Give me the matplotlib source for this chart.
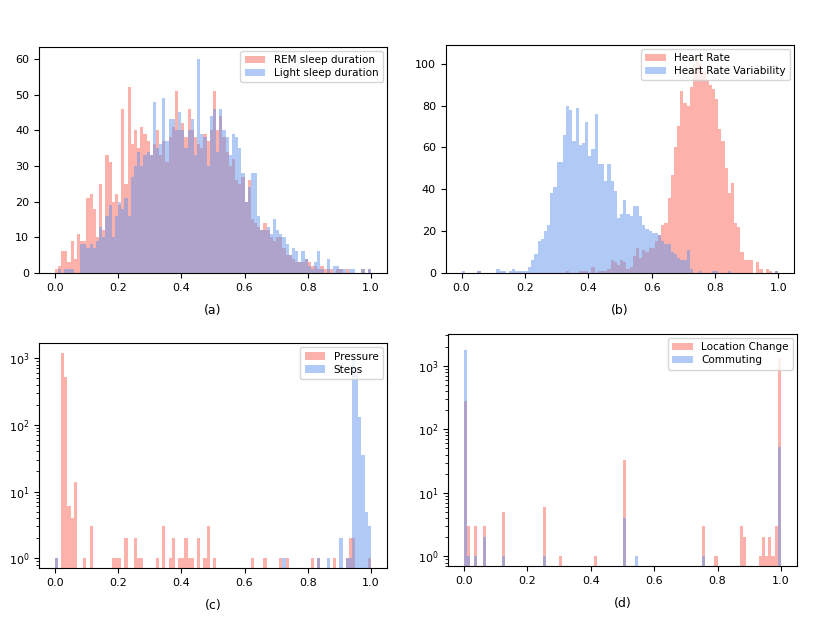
import numpy as np
import matplotlib
matplotlib.use("Agg")
import matplotlib.pyplot as plt

# 100 bins on [0, 1]
n_bins = 100

# (a) sleep
rem_sleep = [1, 2, 6, 6, 3, 9, 4, 11, 9, 9,
             21, 22, 18, 10, 25, 12, 33, 31, 20, 22,
             19, 46, 25, 52, 36, 40, 35, 41, 39, 37,
             33, 36, 40, 33, 37, 31, 38, 41, 51, 40,
             42, 38, 46, 40, 38, 36, 35, 39, 37, 40,
             51, 40, 44, 38, 34, 30, 32, 26, 25, 27,
             20, 26, 15, 14, 13, 12, 14, 12, 10, 9,
             10, 10, 7, 5, 5, 4, 3, 3, 3, 4,
             3, 2, 2, 1, 2, 1, 1, 1, 0, 1,
             1, 0, 1, 0, 0, 0, 0, 1, 0, 1]
light_sleep = [0, 1, 0, 1, 1, 1, 0, 0, 8, 8,
               7, 8, 7, 9, 13, 10, 16, 19, 10, 16,
               20, 18, 21, 16, 27, 30, 34, 30, 33, 34,
               33, 48, 35, 36, 49, 37, 43, 43, 40, 45,
               40, 35, 40, 43, 33, 60, 39, 38, 30, 44,
               46, 34, 46, 40, 38, 33, 39, 38, 35, 28,
               20, 24, 28, 28, 16, 12, 12, 13, 11, 15,
               12, 11, 10, 8, 5, 7, 6, 3, 6, 4,
               2, 1, 3, 6, 1, 0, 4, 0, 2, 2,
               1, 1, 0, 1, 1, 0, 0, 1, 0, 1]

# (b) heart
heart_rate = [0, 0, 0, 0, 0, 1, 0, 0, 0, 0,
              0, 0, 0, 0, 0, 0, 0, 0, 0, 0,
              0, 0, 0, 0, 0, 0, 0, 0, 0, 0,
              0, 0, 0, 1, 0, 0, 0, 1, 1, 1,
              0, 3, 0, 1, 1, 1, 2, 6, 5, 4,
              6, 5, 2, 3, 8, 12, 7, 11, 10, 12,
              12, 15, 18, 23, 24, 36, 47, 60, 70, 87,
              81, 80, 89, 99, 102, 100, 96, 92, 90, 88,
              83, 69, 63, 50, 38, 43, 24, 22, 10, 6,
              6, 6, 0, 5, 2, 0, 2, 1, 0, 1]
hr_variability = [1, 0, 0, 0, 0, 1, 0, 0, 0, 0,
                  0, 2, 1, 1, 0, 1, 2, 1, 1, 1,
                  1, 3, 6, 9, 15, 16, 20, 23, 38, 41,
                  53, 53, 66, 80, 78, 63, 79, 61, 62, 72,
                  56, 59, 76, 52, 52, 44, 52, 44, 39, 26,
                  28, 35, 28, 27, 32, 32, 27, 23, 21, 20,
                  19, 19, 18, 15, 14, 14, 10, 9, 7, 6,
                  6, 11, 2, 0, 0, 1, 0, 0, 0, 1,
                  1, 0, 0, 0, 1, 0, 0, 0, 0, 0,
                  0, 0, 0, 0, 0, 0, 0, 0, 0, 1]

# (c) pressure / steps (non-empty bins only)
pressure_bins = [0, 2, 3, 4, 5, 6, 9, 11, 18, 19, 20, 22, 25, 26, 27, 32, 34, 36, 37,
                 39, 40, 41, 42, 43, 45, 47, 48, 50, 62, 66, 71, 73, 81, 83, 88, 92, 93, 94, 99]
pressure_counts = [1, 1200, 520, 6, 4, 14, 1, 3, 1, 1, 1, 2, 2, 1, 1, 1, 3, 1, 2,
                   1, 1, 2, 1, 1, 2, 1, 3, 1, 1, 1, 1, 1, 1, 1, 1, 1, 2, 2, 1]
steps_bins = [0, 72, 83, 86, 90, 92, 93, 94, 95, 96, 97, 98, 99]
steps_counts = [1, 1, 1, 1, 2, 1, 1, 1000, 700, 133, 35, 5, 3]

# (d) location change / commuting
location_bins = [0, 1, 3, 6, 12, 25, 30, 41, 50, 75, 79, 87, 88, 93, 94, 95, 96, 97, 98, 99]
location_counts = [280, 3, 3, 3, 5, 6, 1, 1, 33, 3, 1, 3, 2, 1, 2, 1, 2, 1, 3, 1300]
commuting_bins = [0, 1, 3, 6, 12, 25, 50, 54, 75, 99]
commuting_counts = [1750, 1, 1, 2, 1, 1, 4, 1, 1, 53]


def dense(bins, counts):
    out = np.zeros(n_bins)
    out[bins] = counts
    return out


edges = np.linspace(0, 1, n_bins + 1)
RED = 'salmon'
BLUE = 'cornflowerblue'

fig = plt.figure(figsize=(8.3, 6.23), dpi=100)
axes = [fig.add_axes([0.047, 0.562, 0.419, 0.363]),
        fig.add_axes([0.537, 0.562, 0.420, 0.366]),
        fig.add_axes([0.047, 0.088, 0.419, 0.361]),
        fig.add_axes([0.540, 0.091, 0.420, 0.373])]

panels = [
    (np.array(rem_sleep), np.array(light_sleep), 'REM sleep duration', 'Light sleep duration', '(a)'),
    (np.array(heart_rate), np.array(hr_variability), 'Heart Rate', 'Heart Rate Variability', '(b)'),
    (dense(pressure_bins, pressure_counts), dense(steps_bins, steps_counts), 'Pressure', 'Steps', '(c)'),
    (dense(location_bins, location_counts), dense(commuting_bins, commuting_counts),
     'Location Change', 'Commuting', '(d)'),
]

for ax, (red, blue, lab_r, lab_b, tag) in zip(axes, panels):
    ax.hist(edges[:-1], bins=edges, weights=red, color=RED, alpha=0.6, label=lab_r)
    ax.hist(edges[:-1], bins=edges, weights=blue, color=BLUE, alpha=0.5, label=lab_b)
    ax.set_xlim(-0.05, 1.05)
    ax.set_xticks([0.0, 0.2, 0.4, 0.6, 0.8, 1.0])
    ax.tick_params(labelsize=8)
    ax.set_xlabel(tag, fontsize=9, labelpad=8)
    ax.legend(loc='upper right', fontsize=7.5, borderaxespad=0.4, labelspacing=0.3)

axes[0].set_ylim(0, 63.4)
axes[1].set_ylim(0, 109)
axes[2].set_yscale('log')
axes[2].set_ylim(0.71, 1670)
axes[3].set_yscale('log')
axes[3].set_ylim(0.70, 3160)

fig.savefig('out.png', dpi=100)
